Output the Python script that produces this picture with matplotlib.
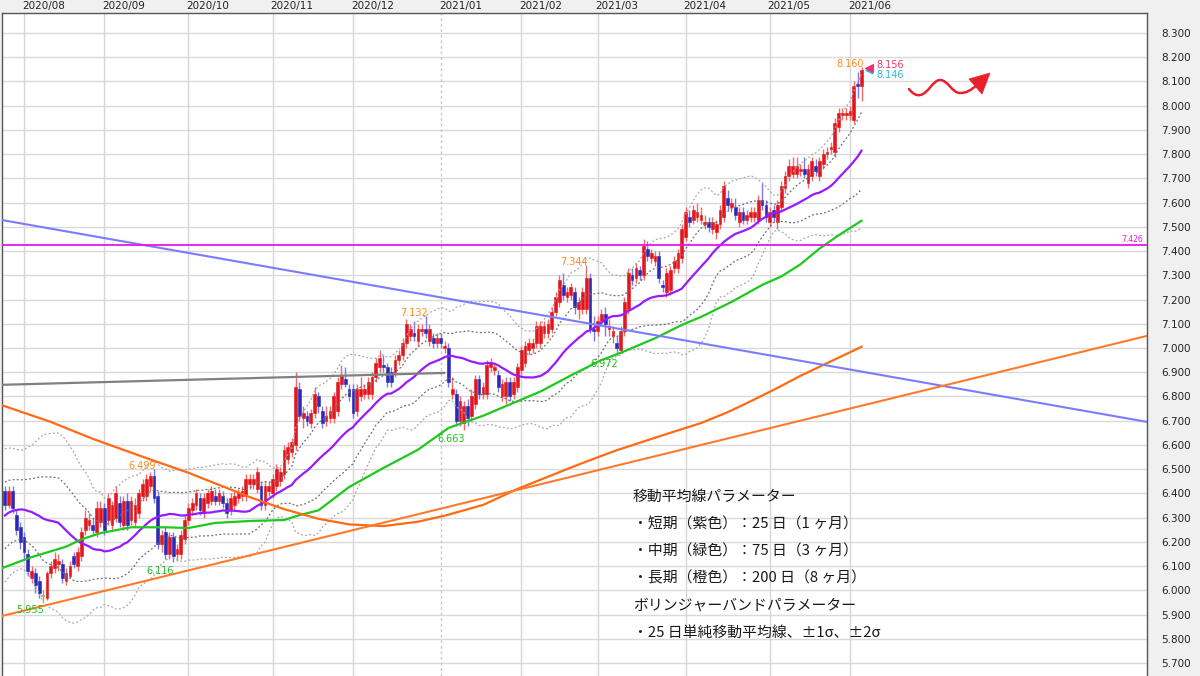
import numpy as np
import matplotlib
matplotlib.use("Agg")
import matplotlib.pyplot as plt
from matplotlib.path import Path
from matplotlib.patches import PathPatch, Polygon
from matplotlib.transforms import IdentityTransform

plt.rcParams['font.family'] = ['DejaVu Sans', 'Noto Sans CJK JP']

# ---------------- data ----------------
month_labels = ["2020/08", "2020/09", "2020/10", "2020/11", "2020/12", "2021/01",
                "2021/02", "2021/03", "2021/04", "2021/05", "2021/06"]
month_pos = [5, 26, 48, 70, 91, 114, 135, 155, 178, 200, 221]

opens = [
    6.41, 6.35, 6.41, 6.31, 6.26, 6.22, 6.15, 6.05, 6.07, 6.04,
    5.975, 5.97, 6.07, 6.09, 6.11, 6.11, 6.04, 6.06, 6.14, 6.10,
    6.14, 6.25, 6.27, 6.27, 6.24, 6.28, 6.34, 6.29, 6.27, 6.30,
    6.36, 6.27, 6.37, 6.29, 6.28, 6.32, 6.39, 6.39, 6.43, 6.47,
    6.39, 6.19, 6.24, 6.15, 6.22, 6.15, 6.15, 6.21, 6.29, 6.33,
    6.35, 6.38, 6.32, 6.36, 6.37, 6.39, 6.37, 6.39, 6.36, 6.33,
    6.35, 6.38, 6.39, 6.39, 6.44, 6.44, 6.42, 6.43, 6.35, 6.41,
    6.40, 6.43, 6.45, 6.48, 6.54, 6.57, 6.60, 6.83, 6.71, 6.72,
    6.69, 6.73, 6.80, 6.74, 6.70, 6.71, 6.71, 6.74, 6.85, 6.87,
    6.83, 6.83, 6.74, 6.80, 6.81, 6.81, 6.81, 6.88, 6.92, 6.93,
    6.92, 6.90, 6.90, 6.95, 6.97, 7.02, 7.05, 7.06, 7.03, 7.07,
    7.08, 7.03, 7.04, 7.02, 7.04, 7.00, 7.00, 6.81, 6.81, 6.70,
    6.69, 6.76, 6.72, 6.77, 6.87, 6.81, 6.81, 6.92, 6.91, 6.89,
    6.80, 6.80, 6.86, 6.81, 6.84, 6.91, 6.94, 6.99, 7.00, 7.02,
    7.02, 7.06, 7.06, 7.08, 7.15, 7.19, 7.26, 7.21, 7.22, 7.23,
    7.16, 7.16, 7.16, 7.29, 7.08, 7.07, 7.11, 7.14, 7.08, 7.05,
    7.02, 6.99, 7.07, 7.16, 7.30, 7.29, 7.32, 7.30, 7.41, 7.37,
    7.36, 7.38, 7.26, 7.23, 7.24, 7.33, 7.33, 7.37, 7.46, 7.54,
    7.53, 7.54, 7.53, 7.51, 7.52, 7.49, 7.48, 7.51, 7.54, 7.62,
    7.58, 7.58, 7.52, 7.56, 7.53, 7.54, 7.54, 7.53, 7.61, 7.59,
    7.52, 7.57, 7.52, 7.58, 7.66, 7.71, 7.72, 7.72, 7.73, 7.74,
    7.68, 7.71, 7.75, 7.71, 7.76, 7.80, 7.82, 7.81, 7.91, 7.96,
    7.96, 7.96, 7.94, 8.09, 8.08]

highs = [
    6.43, 6.43, 6.43, 6.33, 6.28, 6.24, 6.17, 6.10, 6.09, 6.06,
    6.00, 6.08, 6.12, 6.16, 6.15, 6.13, 6.09, 6.12, 6.16, 6.18,
    6.26, 6.33, 6.32, 6.30, 6.37, 6.37, 6.36, 6.40, 6.37, 6.43,
    6.39, 6.39, 6.40, 6.39, 6.38, 6.42, 6.46, 6.48, 6.49, 6.499,
    6.41, 6.25, 6.26, 6.24, 6.24, 6.19, 6.25, 6.31, 6.36, 6.38,
    6.42, 6.40, 6.40, 6.42, 6.43, 6.42, 6.42, 6.41, 6.38, 6.40,
    6.41, 6.42, 6.43, 6.48, 6.48, 6.48, 6.51, 6.45, 6.45, 6.45,
    6.48, 6.52, 6.51, 6.60, 6.61, 6.63, 6.90, 6.86, 6.76, 6.74,
    6.75, 6.84, 6.82, 6.76, 6.76, 6.76, 6.82, 6.88, 6.93, 6.92,
    6.85, 6.85, 6.85, 6.88, 6.85, 6.88, 6.90, 6.96, 6.99, 6.97,
    6.94, 6.92, 6.97, 6.99, 7.04, 7.12, 7.10, 7.11, 7.10, 7.10,
    7.132, 7.10, 7.06, 7.06, 7.06, 7.03, 7.02, 6.88, 6.83, 6.80,
    6.78, 6.79, 6.83, 6.89, 6.89, 6.86, 6.95, 6.96, 6.94, 6.91,
    6.87, 6.88, 6.88, 6.88, 6.94, 7.01, 7.03, 7.04, 7.04, 7.11,
    7.11, 7.11, 7.12, 7.17, 7.23, 7.30, 7.31, 7.25, 7.27, 7.25,
    7.21, 7.25, 7.344, 7.31, 7.13, 7.13, 7.16, 7.17, 7.12, 7.09,
    7.05, 7.09, 7.21, 7.33, 7.33, 7.35, 7.34, 7.45, 7.44, 7.41,
    7.40, 7.40, 7.28, 7.33, 7.34, 7.38, 7.41, 7.51, 7.58, 7.57,
    7.59, 7.60, 7.58, 7.55, 7.54, 7.54, 7.53, 7.59, 7.69, 7.65,
    7.62, 7.62, 7.58, 7.58, 7.57, 7.58, 7.58, 7.63, 7.68, 7.61,
    7.58, 7.59, 7.61, 7.69, 7.73, 7.78, 7.79, 7.79, 7.76, 7.79,
    7.76, 7.79, 7.78, 7.79, 7.82, 7.83, 7.85, 7.95, 7.99, 7.99,
    7.99, 8.00, 8.10, 8.14, 8.160]

lows = [
    6.33, 6.34, 6.32, 6.23, 6.17, 6.13, 6.06, 6.03, 5.99, 5.97,
    5.955, 5.96, 6.05, 6.07, 6.08, 6.03, 6.02, 6.05, 6.09, 6.08,
    6.12, 6.23, 6.25, 6.23, 6.22, 6.26, 6.23, 6.27, 6.25, 6.28,
    6.26, 6.25, 6.25, 6.27, 6.26, 6.30, 6.37, 6.37, 6.41, 6.36,
    6.17, 6.16, 6.13, 6.13, 6.116, 6.12, 6.13, 6.19, 6.27, 6.31,
    6.33, 6.31, 6.30, 6.34, 6.35, 6.35, 6.35, 6.34, 6.30, 6.31,
    6.33, 6.36, 6.37, 6.37, 6.42, 6.42, 6.40, 6.33, 6.33, 6.39,
    6.38, 6.41, 6.43, 6.46, 6.52, 6.55, 6.58, 6.70, 6.67, 6.68,
    6.67, 6.71, 6.73, 6.67, 6.68, 6.69, 6.69, 6.72, 6.83, 6.84,
    6.78, 6.71, 6.72, 6.78, 6.79, 6.79, 6.79, 6.86, 6.90, 6.90,
    6.84, 6.84, 6.88, 6.93, 6.95, 7.00, 7.03, 7.03, 7.01, 7.05,
    7.04, 7.01, 7.00, 7.00, 7.00, 6.98, 6.84, 6.79, 6.68, 6.68,
    6.663, 6.68, 6.70, 6.75, 6.79, 6.79, 6.79, 6.90, 6.89, 6.82,
    6.78, 6.77, 6.78, 6.79, 6.82, 6.89, 6.92, 6.97, 6.98, 7.00,
    7.00, 7.04, 7.04, 7.06, 7.13, 7.17, 7.20, 7.19, 7.20, 7.14,
    7.12, 7.14, 7.14, 7.06, 7.03, 7.05, 7.09, 7.05, 7.05, 7.02,
    6.972, 6.98, 7.05, 7.14, 7.26, 7.27, 7.28, 7.28, 7.36, 7.35,
    7.34, 7.27, 7.23, 7.21, 7.22, 7.31, 7.31, 7.35, 7.44, 7.50,
    7.51, 7.52, 7.51, 7.49, 7.48, 7.47, 7.45, 7.49, 7.52, 7.57,
    7.56, 7.53, 7.50, 7.51, 7.51, 7.52, 7.52, 7.51, 7.57, 7.52,
    7.50, 7.52, 7.49, 7.56, 7.64, 7.69, 7.70, 7.70, 7.71, 7.70,
    7.66, 7.69, 7.71, 7.69, 7.74, 7.78, 7.80, 7.79, 7.89, 7.94,
    7.94, 7.94, 7.93, 8.03, 8.02]

closes = [
    6.35, 6.41, 6.34, 6.25, 6.20, 6.16, 6.08, 6.08, 6.02, 5.99,
    5.975, 6.07, 6.10, 6.13, 6.12, 6.05, 6.07, 6.10, 6.11, 6.16,
    6.24, 6.30, 6.29, 6.25, 6.34, 6.34, 6.25, 6.38, 6.35, 6.40,
    6.28, 6.37, 6.27, 6.37, 6.35, 6.40, 6.44, 6.46, 6.47, 6.38,
    6.19, 6.23, 6.15, 6.22, 6.14, 6.17, 6.23, 6.29, 6.34, 6.36,
    6.40, 6.33, 6.38, 6.40, 6.41, 6.37, 6.40, 6.36, 6.32, 6.38,
    6.39, 6.40, 6.41, 6.46, 6.46, 6.46, 6.49, 6.35, 6.43, 6.43,
    6.46, 6.50, 6.49, 6.58, 6.59, 6.61, 6.84, 6.72, 6.73, 6.70,
    6.73, 6.81, 6.76, 6.69, 6.72, 6.74, 6.80, 6.86, 6.89, 6.85,
    6.80, 6.73, 6.83, 6.83, 6.83, 6.86, 6.88, 6.94, 6.96, 6.92,
    6.86, 6.86, 6.95, 6.97, 7.02, 7.10, 7.08, 7.05, 7.08, 7.08,
    7.06, 7.08, 7.02, 7.04, 7.02, 7.01, 6.86, 6.83, 6.70, 6.78,
    6.76, 6.71, 6.80, 6.87, 6.81, 6.84, 6.93, 6.94, 6.92, 6.84,
    6.85, 6.86, 6.80, 6.86, 6.92, 6.99, 7.01, 7.02, 7.02, 7.09,
    7.09, 7.09, 7.10, 7.15, 7.21, 7.28, 7.22, 7.23, 7.25, 7.17,
    7.19, 7.23, 7.29, 7.08, 7.07, 7.11, 7.14, 7.10, 7.09, 7.07,
    7.00, 7.07, 7.19, 7.31, 7.28, 7.33, 7.30, 7.42, 7.38, 7.39,
    7.38, 7.29, 7.25, 7.31, 7.32, 7.36, 7.39, 7.49, 7.56, 7.52,
    7.57, 7.56, 7.55, 7.52, 7.50, 7.52, 7.51, 7.57, 7.67, 7.59,
    7.60, 7.55, 7.56, 7.53, 7.55, 7.56, 7.56, 7.61, 7.59, 7.54,
    7.56, 7.54, 7.59, 7.67, 7.71, 7.75, 7.75, 7.75, 7.74, 7.72,
    7.74, 7.77, 7.73, 7.77, 7.80, 7.81, 7.83, 7.93, 7.97, 7.97,
    7.97, 7.98, 8.08, 8.08, 8.146]

# closes of the 24 sessions before the first visible candle (estimated from the band widths)
july_closes = [6.12, 6.15, 6.17, 6.14, 6.18, 6.21, 6.19, 6.22, 6.20, 6.24, 6.22, 6.19,
               6.21, 6.24, 6.44, 6.47, 6.49, 6.46, 6.50, 6.48, 6.45, 6.47, 6.49, 6.44]

ma75_idx = [-1, 7, 16, 20, 25, 33, 42, 48, 55, 64, 73, 77, 82, 90, 99, 108, 116,
            125, 131, 140, 149, 156, 161, 170, 177, 182, 190, 198, 203, 208, 213, 218, 224]
ma75_val = [6.09, 6.137, 6.18, 6.21, 6.236, 6.26, 6.26, 6.257, 6.278, 6.286, 6.29, 6.31,
            6.33, 6.426, 6.505, 6.58, 6.67, 6.72, 6.76, 6.82, 6.895, 6.95, 6.98, 7.04,
            7.095, 7.128, 7.19, 7.26, 7.295, 7.345, 7.41, 7.465, 7.525]

ma200_idx = [-1, 12, 23, 38, 48, 56, 64, 73, 82, 90, 99, 108, 115, 125, 134, 143, 151,
             160, 174, 182, 189, 195, 202, 208, 216, 224]
ma200_val = [6.765, 6.695, 6.625, 6.54, 6.485, 6.435, 6.385, 6.335, 6.295, 6.272, 6.265,
             6.283, 6.308, 6.352, 6.418, 6.475, 6.525, 6.578, 6.65, 6.69, 6.735, 6.78,
             6.835, 6.885, 6.945, 7.005]

blue_trend_x, blue_trend_y = [-0.75, 298.65], [7.528, 6.695]
orange_trend_x, orange_trend_y = [-0.75, 298.65], [5.894, 7.050]
gray_line_x, gray_line_y = [-0.75, 114.9], [6.848, 6.897]
hline_level = 7.426

high_marks = [39, 110, 152, 224]
low_marks = [10, 44, 120, 160]
ask_price, bid_price = 8.156, 8.146

note_lines = ["移動平均線パラメーター",
              "・短期（紫色）：25 日（1 ヶ月）",
              "・中期（緑色）：75 日（3 ヶ月）",
              "・長期（橙色）：200 日（8 ヶ月）",
              "ボリンジャーバンドパラメーター",
              "・25 日単純移動平均線、±1σ、±2σ"]

# ---------------- figure ----------------
W, H = 1200, 676
fig = plt.figure(figsize=(W / 100, H / 100), dpi=100)
fig.patch.set_facecolor('#f0f0f0')
ax = fig.add_axes([2 / W, 0, 1145 / W, 663 / H])
ax.set_facecolor('white')
ax.set_xlim(-0.75, 298.65)
ax.set_ylim(5.6463, 8.3825)

yt = np.round(np.arange(5.7, 8.301, 0.1), 1)
for v in yt:
    ax.axhline(v, color='#dadada', lw=1.0, zorder=0)
for k, m in enumerate(month_pos):
    if month_labels[k] == "2021/01":
        ax.axvline(m, color='#c8c8c8', lw=1.0, ls=(0, (2, 2)), zorder=0)
    else:
        ax.axvline(m, color='#d6d6d6', lw=1.0, zorder=0)
    ax.annotate(month_labels[k], xy=(m, 1), xycoords=('data', 'axes fraction'),
                xytext=(-2, 6.5), textcoords='offset pixels', ha='left', va='center',
                fontsize=7.5, color='#222222', annotation_clip=False)

ax.yaxis.tick_right()
ax.set_yticks(yt)
ax.set_yticklabels([f"{v:.3f}" for v in yt])
ax.tick_params(axis='y', length=0, pad=10, labelsize=7.5, labelcolor='#222222')
ax.set_xticks([])
for s in ['top', 'right', 'left']:
    ax.spines[s].set_color('#555555')
    ax.spines[s].set_linewidth(1.0)
ax.spines['bottom'].set_visible(False)

# ---------------- candles ----------------
o = np.array(opens); h = np.array(highs); l = np.array(lows); c = np.array(closes)
idx = np.arange(len(c))
up = c > o
dn = c < o
eq = ~(up | dn)
wick_col = np.where(up, '#f06a6a', np.where(dn, '#7a7af0', '#c9a23f'))
ax.vlines(idx, l, h, colors=list(wick_col), lw=1.0, zorder=2)
body_col = np.where(up, '#e2161c', '#2a2ab8')
nz = ~eq
ax.bar(idx[nz], (c - o)[nz], bottom=o[nz], width=0.72, color=list(body_col[nz]),
       edgecolor=list(body_col[nz]), linewidth=0.4, zorder=3)
ax.hlines(c[eq], idx[eq] - 0.45, idx[eq] + 0.45, colors='#c9a23f', lw=1.2, zorder=3)

# ---------------- bollinger / moving averages ----------------
allc = np.array(july_closes + closes)
win = 25
start = len(july_closes)
mid = np.array([allc[k - win + 1:k + 1].mean() for k in range(start, len(allc))])
sd = np.array([allc[k - win + 1:k + 1].std() for k in range(start, len(allc))])
dots = (0, (1.5, 1.8))
ax.plot(idx, mid + 2 * sd, color='#a8a8a8', lw=0.9, ls=dots, zorder=4)
ax.plot(idx, mid - 2 * sd, color='#a8a8a8', lw=0.9, ls=dots, zorder=4)
ax.plot(idx, mid + sd, color='#6e6e6e', lw=0.9, ls=dots, zorder=4)
ax.plot(idx, mid - sd, color='#6e6e6e', lw=0.9, ls=dots, zorder=4)
ax.plot(idx, mid, color='#9a1aff', lw=1.6, zorder=5)
ax.plot(ma75_idx, ma75_val, color='#1ec81e', lw=1.6, zorder=5)
ax.plot(ma200_idx, ma200_val, color='#ff6a13', lw=1.6, zorder=5)

# ---------------- trend lines ----------------
ax.plot(blue_trend_x, blue_trend_y, color='#7b7bff', lw=1.5, zorder=6)
ax.plot(orange_trend_x, orange_trend_y, color='#ff7a2a', lw=1.5, zorder=6)
ax.plot(gray_line_x, gray_line_y, color='#808080', lw=1.6, zorder=6)
ax.axhline(hline_level, color='#ee11ee', lw=1.3, zorder=6)
ax.annotate(f"{hline_level:.3f}", xy=(1, hline_level), xycoords=('axes fraction', 'data'),
            xytext=(-4, 1), textcoords='offset pixels', ha='right', va='bottom',
            fontsize=5.5, color='#ee11ee')

# ---------------- high / low labels ----------------
for i in high_marks:
    ax.annotate(f"{h[i]:.3f}", xy=(i, h[i]), xytext=(2, -2), textcoords='offset pixels',
                ha='right', va='bottom', fontsize=7, color='#ff8a1e', zorder=8)
for i in low_marks:
    ax.annotate(f"{l[i]:.3f}", xy=(i, l[i]), xytext=(1, -4), textcoords='offset pixels',
                ha='right', va='top', fontsize=7, color='#1ec01e', zorder=8)

# ---------------- bid / ask markers ----------------
ax.scatter([226], [bid_price], marker='<', s=22, color='#2ab7e8', zorder=8, clip_on=False)
ax.scatter([226], [ask_price], marker='<', s=30, color='#f2336f', zorder=9, clip_on=False)
ax.annotate(f"{ask_price:.3f}", xy=(226, ask_price), xytext=(7, 3), textcoords='offset pixels',
            ha='left', va='center', fontsize=7, color='#f2336f')
ax.annotate(f"{bid_price:.3f}", xy=(226, bid_price), xytext=(7, -5), textcoords='offset pixels',
            ha='left', va='center', fontsize=7, color='#2ab7e8')

# ---------------- wavy arrow (decoration) ----------------
def px(x, y):
    return (x, H - y)

verts = [px(909, 89), px(912, 93), px(916, 96), px(920, 95),
         px(928, 94), px(933, 80), px(940, 80),
         px(948, 80), px(952, 93), px(960, 93),
         px(967, 93), px(971, 90), px(977, 85)]
codes = [Path.MOVETO] + [Path.CURVE4] * 12
fig.patches.append(PathPatch(Path(verts, codes), fill=False, edgecolor='#e8202a', lw=1.8,
                             transform=IdentityTransform(), figure=fig, capstyle='round'))
fig.patches.append(Polygon([px(969, 79), px(990, 73), px(982, 94)], closed=True,
                           facecolor='#e8202a', edgecolor='#e8202a', lw=0.5,
                           transform=IdentityTransform(), figure=fig))

# ---------------- notes ----------------
for k, t in enumerate(note_lines):
    fig.text(633 / W, 1 - (497 + 27.2 * k) / H, t, ha='left', va='center', fontsize=10.7,
             color='#1a1a1a', family=['Noto Sans CJK JP', 'DejaVu Sans'])

fig.savefig('out.png', dpi=100, facecolor=fig.get_facecolor())
